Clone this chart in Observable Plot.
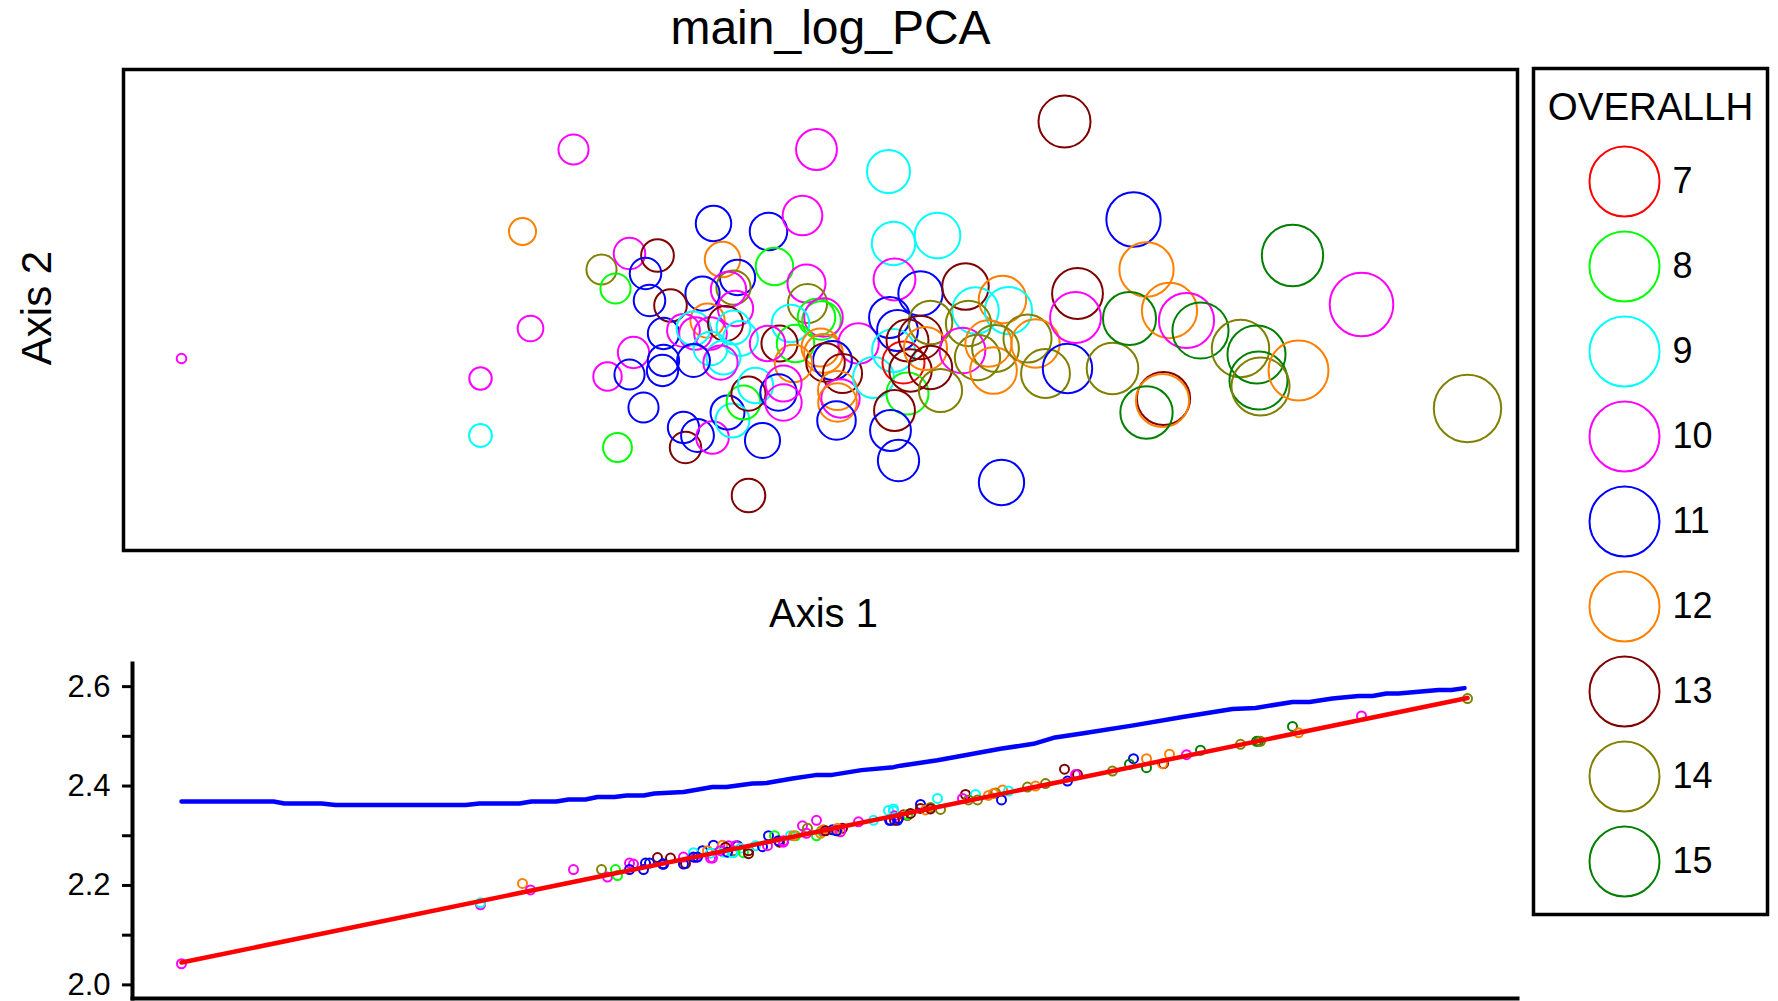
<!DOCTYPE html>
<html><head><meta charset="utf-8">
<script src="https://cdn.jsdelivr.net/npm/d3@7"></script>
<script src="https://cdn.jsdelivr.net/npm/@observablehq/plot@0.6"></script>
<style>
body{margin:0;background:#fff;}
#wrap{position:relative;width:1778px;height:1001px;overflow:hidden;font-family:"Liberation Sans",Arial,sans-serif;}
#wrap svg{position:absolute;}
</style></head><body><div id="wrap"></div>
<script>
const groups = [7, 8, 9, 10, 11, 12, 13, 14, 15];
const groupColors = ["#ff0000","#00ff00","#00ffff","#ff00ff","#0000ff","#ff8000","#800000","#808000","#008000"];

const axis1 = [-6.19,-2.27,-2.78,-2.70,-3.20,-3.20,-1.99,-1.85,-1.71,-1.43,-1.55,-1.51,-1.67,-1.93,-1.71,-1.57,-1.83,-1.15,
0.88,-0.87,-0.32,0.02,-0.78,-0.26,-0.63,-0.67,-0.72,-0.98,-1.30,-0.93,-0.65,0.06,0.07,0.16,0.21,0.23,-0.10,-0.21,-0.05,0.20,0.23,0.58,0.32,0.25,0.42,-0.07,0.37,0.40,0.37,0.36,0.73,0.93,0.94,0.89,0.97,0.93,1.03,1.07,1.07,0.94,0.90,0.98,1.10,1.37,
-1.37,-1.17,-1.05,-1.07,-0.90,-0.75,-0.67,-0.60,-0.90,-0.77,-0.80,-1.07,-1.37,-1.38,-1.17,-1.03,-0.88,-0.73,-0.68,-0.57,-0.52,-0.45,-0.22,-0.17,-0.17,-0.38,-0.52,-0.33,
1.20,1.65,1.75,2.02,2.08,1.30,1.68,1.20,1.25,1.62,1.30,1.40,1.77,1.88,1.95,1.93,2.27,2.35,2.45,2.67,3.12,2.77,2.75,3.33,3.46,3.29,3.69,3.86,4.00,4.40,4.56,3.63,3.62,3.46,2.01,4.58,4.60,4.92,5.61,4.98,6.67,2.64,0.16];

const axis2 = [-0.48,1.61,0.79,-0.18,-0.68,-1.25,0.41,0.22,0.57,0.55,0.37,0.10,-0.42,-0.66,-0.64,-0.97,-1.37,-1.37,
1.39,0.87,0.79,0.95,0.51,0.44,0.33,0.23,0.21,0.17,0.05,-0.10,0.02,0.27,0.07,-0.07,-0.10,-0.07,-0.13,-0.33,-0.33,-0.37,-0.43,-0.33,-0.50,-0.52,-0.63,-0.53,-0.80,-0.88,-0.92,-1.10,-0.67,0.67,0.31,-0.07,-0.20,-0.40,-0.52,-0.30,-0.83,-1.00,-1.20,-1.50,-0.60,0.75,
-0.23,-0.20,-0.23,-0.18,-0.23,-0.13,-0.17,-0.28,-0.38,-0.47,-0.52,-0.50,-0.50,-0.60,-1.17,-1.25,-1.27,-1.02,-1.10,-0.92,-0.83,-0.75,-0.82,-0.73,-0.92,-1.30,-1.85,-0.33,
0.17,0.24,0.00,0.11,0.00,-0.12,-0.13,-0.27,-0.38,-0.40,-0.57,-0.80,-0.47,-0.33,-0.38,-0.60,-0.28,-0.33,-0.63,-0.58,-0.58,0.17,-0.07,0.91,0.41,-0.08,0.00,-0.10,-0.20,-0.38,-0.44,-0.88,-0.90,-1.02,-1.72,-0.70,-0.76,0.55,0.06,-0.60,-0.98,1.89,1.61];

const overallh = [10,10,12,10,10,9,14,8,10,13,11,11,10,10,11,11,8,13,
9,11,11,10,12,8,11,14,10,11,13,12,10,10,14,8,8,10,9,13,8,12,12,10,11,13,13,12,12,10,12,11,9,9,10,11,11,9,7,13,8,13,11,11,13,9,
11,10,10,9,10,13,9,9,9,9,10,11,11,11,11,11,10,11,9,8,13,9,11,10,10,11,13,10,
11,13,9,12,9,14,14,13,12,10,13,14,14,12,14,12,14,12,14,11,14,13,10,11,12,15,12,10,15,14,15,13,12,15,11,15,14,15,10,12,14,13,10];

const logValue = [2.0425,2.232,2.204,2.191,2.161,2.165,2.232,2.232,2.245,2.256,2.245,2.245,2.243,2.217,2.232,2.232,2.220,2.244,
2.351,2.281,2.300,2.320,2.281,2.300,2.280,2.270,2.280,2.270,2.255,2.270,2.280,2.305,2.315,2.300,2.310,2.310,2.300,2.287,2.300,2.305,2.312,2.328,2.312,2.310,2.315,2.300,2.315,2.308,2.310,2.310,2.331,2.354,2.340,2.331,2.331,2.350,2.342,2.341,2.342,2.331,2.331,2.335,2.345,2.375,
2.243,2.257,2.256,2.266,2.255,2.277,2.266,2.275,2.265,2.267,2.270,2.257,2.243,2.243,2.243,2.257,2.255,2.267,2.266,2.266,2.270,2.280,2.290,2.287,2.290,2.278,2.264,2.280,
2.363,2.383,2.383,2.392,2.390,2.357,2.372,2.355,2.352,2.375,2.354,2.353,2.372,2.381,2.386,2.385,2.398,2.400,2.405,2.410,2.430,2.423,2.423,2.455,2.455,2.444,2.464,2.463,2.472,2.484,2.490,2.445,2.445,2.437,2.372,2.490,2.490,2.520,2.541,2.507,2.576,2.434,2.331];

const smoothX = [-6.19,-5.27,-5.16,-4.79,-4.65,-3.35,-3.21,-2.81,-2.69,-2.44,-2.32,-2.15,-2.03,-1.86,-1.74,-1.57,-1.46,-1.17,-1.11,-0.88,-0.74,-0.48,-0.34,-0.08,0.15,0.30,0.61,0.93,1.00,1.37,2.00,2.33,2.53,2.83,3.33,3.82,4.32,4.55,4.92,5.09,5.32,5.58,5.72,5.86,5.98,6.15,6.38,6.51,6.64];
const smoothY = [2.369,2.369,2.365,2.365,2.362,2.362,2.365,2.365,2.369,2.369,2.373,2.373,2.378,2.378,2.381,2.381,2.385,2.388,2.390,2.398,2.398,2.405,2.406,2.415,2.422,2.422,2.432,2.438,2.441,2.452,2.475,2.485,2.497,2.506,2.522,2.539,2.555,2.557,2.569,2.569,2.576,2.581,2.581,2.586,2.586,2.589,2.593,2.593,2.597];

const fitX = [-6.19, 6.67];
const fitY = [2.045, 2.577];

const yTicks = [2.0, 2.1, 2.2, 2.3, 2.4, 2.5, 2.6];
const yLabelled = [2.0, 2.2, 2.4, 2.6];

const titleText = "main_log_PCA";
const xLabel = "Axis 1";
const yLabel = "Axis 2";
const legendTitle = "OVERALLH";

// ---- tables
const points = axis1.map((a, i) => ({a1: a, a2: axis2[i], g: overallh[i], v: logValue[i]}));
const smooth = smoothX.map((x, i) => ({x, y: smoothY[i]}));
const fit = fitX.map((x, i) => ({x, y: fitY[i]}));

const FONT = "'Liberation Sans', Arial, Helvetica, sans-serif";
const xScale = {domain: [-6.77, 7.17], range: [123, 1517], axis: null};
const color = {type: "ordinal", domain: groups, range: groupColors};
const baseStyle = {fontFamily: FONT, background: "transparent", color: "#000", overflow: "visible"};

const wrap = document.getElementById("wrap");

// ---- top panel
const topPlot = Plot.plot({
  width: 1778, height: 640,
  marginTop: 69, marginBottom: 90, marginLeft: 123, marginRight: 261,
  x: xScale,
  y: {domain: [-2.40, 2.41], axis: null},
  color,
  r: {type: "linear", domain: [2.0, 2.6], range: [2.5, 35]},
  style: baseStyle,
  marks: [
    Plot.dot(points, {x: "a1", y: "a2", r: "v", stroke: "g", strokeWidth: 2, fill: "none", sort: null}),
    Plot.frame({stroke: "#000", strokeWidth: 3.5}),
    Plot.text([titleText], {text: d => d, frameAnchor: "top", textAnchor: "middle", dx: 10, dy: -26, lineAnchor: "bottom", fontSize: 48, fill: "#000"}),
    Plot.text([xLabel], {text: d => d, frameAnchor: "bottom", textAnchor: "middle", dx: 3, dy: 76, lineAnchor: "bottom", fontSize: 40, fill: "#000"}),
    Plot.text([yLabel], {text: d => d, frameAnchor: "left", textAnchor: "middle", dx: -73, dy: -2, rotate: -90, lineAnchor: "bottom", fontSize: 42, fill: "#000"})
  ]
});
topPlot.style.left = "0px"; topPlot.style.top = "0px";
wrap.appendChild(topPlot);

// ---- bottom panel
const bottomPlot = Plot.plot({
  width: 1778, height: 361,
  marginTop: 23, marginBottom: 3, marginLeft: 132, marginRight: 261,
  x: xScale,
  y: {domain: [1.9726, 2.6465], axis: null},
  color,
  style: baseStyle,
  marks: [
    Plot.axisY({ticks: yTicks, tickFormat: d => yLabelled.some(t => Math.abs(t - d) < 1e-9) ? d.toFixed(1) : "",
      tickSize: 10, tickPadding: 12, fontSize: 31, strokeWidth: 3, stroke: "#000", fill: "#000", anchor: "left"}),
    Plot.dot(points, {x: "a1", y: "v", r: 4.5, stroke: "g", strokeWidth: 2, fill: "none"}),
    Plot.line(fit, {x: "x", y: "y", stroke: "#ff0000", strokeWidth: 4.5}),
    Plot.line(smooth, {x: "x", y: "y", stroke: "#0000ff", strokeWidth: 4.5}),
    Plot.frame({anchor: "left", stroke: "#000", strokeWidth: 4}),
    Plot.frame({anchor: "bottom", stroke: "#000", strokeWidth: 4})
  ]
});
bottomPlot.style.left = "0px"; bottomPlot.style.top = "640px";
wrap.appendChild(bottomPlot);

// ---- legend
const legendPlot = Plot.plot({
  width: 238, height: 850, margin: 2,
  x: {domain: [0, 1], axis: null},
  y: {type: "point", domain: groups, range: [115, 795], padding: 0, axis: null},
  color,
  style: {...baseStyle, background: "#fff"},
  marks: [
    Plot.frame({stroke: "#000", strokeWidth: 3.5}),
    Plot.dot(groups, {y: d => d, stroke: d => d, r: 35, strokeWidth: 2, fill: "none", frameAnchor: "left", dx: 91}),
    Plot.text(groups, {y: d => d, text: d => String(d), frameAnchor: "left", dx: 139, textAnchor: "start", fontSize: 36, fill: "#000"}),
    Plot.text([legendTitle], {text: d => d, frameAnchor: "top", textAnchor: "middle", dy: 51, lineAnchor: "bottom", fontSize: 38.5, fill: "#000"})
  ]
});
legendPlot.style.left = "1531px"; legendPlot.style.top = "66px";
wrap.appendChild(legendPlot);
</script>
</body></html>
